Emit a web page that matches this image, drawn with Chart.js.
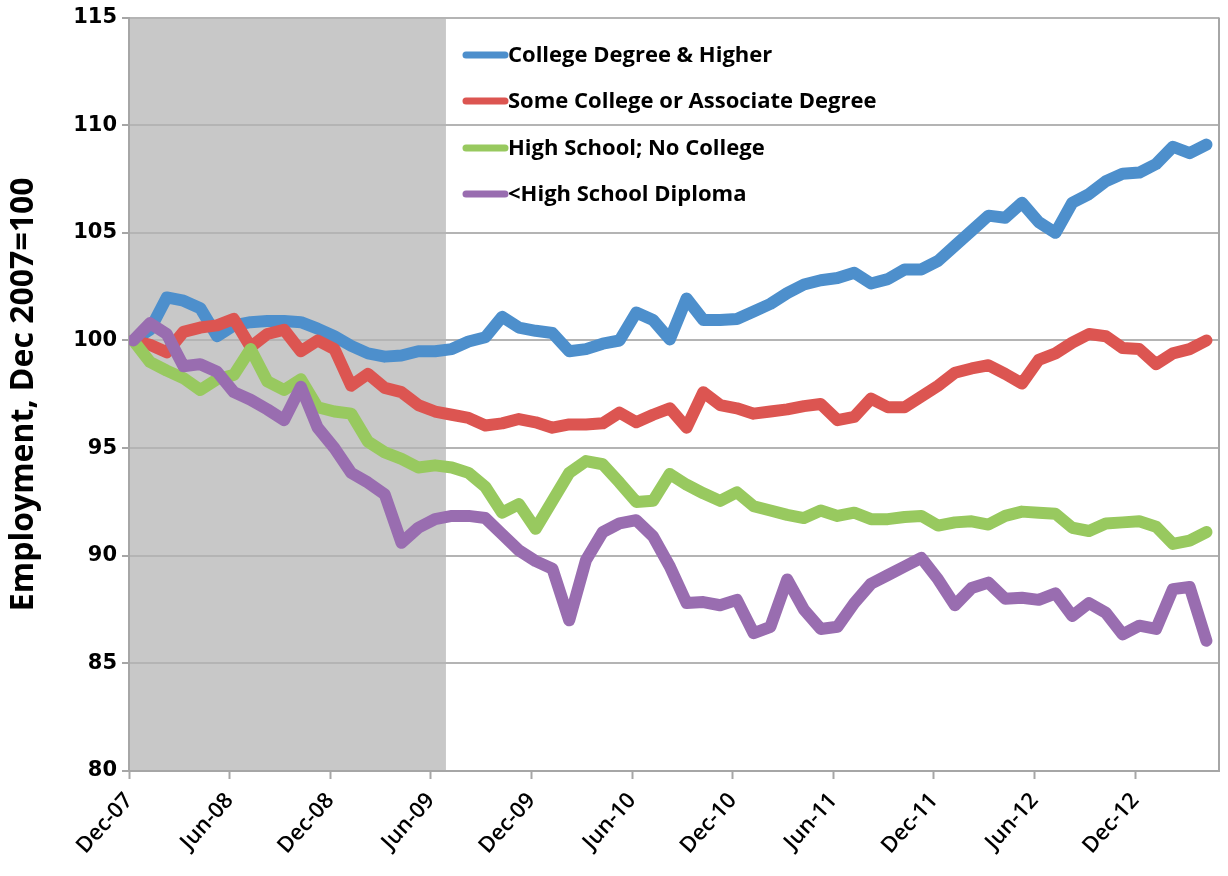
<!DOCTYPE html>
<html>
<head>
<meta charset="utf-8">
<script src="https://cdn.jsdelivr.net/npm/chart.js@4.4.1/dist/chart.umd.min.js"></script>
<style>
  html, body { margin: 0; padding: 0; background: #fff; }
</style>
</head>
<body>
<canvas id="chart" width="1228" height="876"></canvas>
<script>
// Employment by education, index Dec 2007 = 100, monthly Dec-07 .. Apr-13
const seriesNames = [
  'College Degree & Higher',
  'Some College or Associate Degree',
  'High School; No College',
  '<High School Diploma'
];

const collegeDegree = [
  100, 100.5, 102.0, 101.85, 101.5, 100.2, 100.7, 100.85, 100.9, 100.9,
  100.85, 100.55, 100.2, 99.75, 99.4, 99.25, 99.3, 99.5, 99.5, 99.6,
  99.95, 100.15, 101.1, 100.6, 100.45, 100.35, 99.5, 99.6, 99.85, 100.0,
  101.3, 100.95, 100.05, 101.95, 100.95, 100.95, 101.0, 101.35, 101.7, 102.2,
  102.6, 102.8, 102.9, 103.15, 102.65, 102.85, 103.3, 103.3, 103.7, 104.4,
  105.1, 105.8, 105.7, 106.4, 105.5, 105.0, 106.4, 106.8, 107.4, 107.75,
  107.8, 108.2, 109.0, 108.7, 109.1
];

const someCollege = [
  100, 99.8, 99.45, 100.4, 100.6, 100.7, 101.0, 99.7, 100.3, 100.5,
  99.5, 100.0, 99.6, 97.9, 98.45, 97.8, 97.6, 97.0, 96.7, 96.55,
  96.4, 96.05, 96.15, 96.35, 96.2, 95.95, 96.1, 96.1, 96.15, 96.65,
  96.2, 96.55, 96.85, 95.95, 97.6, 97.0, 96.85, 96.6, 96.7, 96.8,
  96.95, 97.05, 96.3, 96.45, 97.3, 96.9, 96.9, 97.4, 97.9, 98.5,
  98.7, 98.85, 98.45, 98.0, 99.1, 99.4, 99.9, 100.3, 100.2, 99.65,
  99.6, 98.9, 99.4, 99.6, 100.0
];

const highSchool = [
  100, 99.0, 98.6, 98.25, 97.7, 98.2, 98.4, 99.6, 98.1, 97.7,
  98.2, 96.9, 96.7, 96.6, 95.3, 94.8, 94.5, 94.1, 94.2, 94.1,
  93.85, 93.2, 92.0, 92.4, 91.25, 92.55, 93.85, 94.4, 94.25, 93.4,
  92.5, 92.55, 93.8, 93.3, 92.9, 92.55, 92.95, 92.3, 92.1, 91.9,
  91.75, 92.1, 91.85, 92.0, 91.7, 91.7, 91.8, 91.85, 91.4, 91.55,
  91.6, 91.45, 91.85, 92.05, 92.0, 91.95, 91.3, 91.15, 91.5, 91.55,
  91.6, 91.35, 90.55, 90.7, 91.1
];

const lessThanHS = [
  100, 100.8, 100.3, 98.8, 98.9, 98.55, 97.6, 97.25, 96.8, 96.3,
  97.85, 95.95, 95.0, 93.85, 93.4, 92.85, 90.6, 91.3, 91.7, 91.85,
  91.85, 91.75, 91.0, 90.25, 89.75, 89.4, 87.0, 89.8, 91.1, 91.5,
  91.65, 90.9, 89.5, 87.8, 87.85, 87.7, 87.95, 86.4, 86.7, 88.9,
  87.5, 86.6, 86.7, 87.8, 88.7, 89.1, 89.5, 89.9, 88.9, 87.7,
  88.5, 88.75, 88.0, 88.05, 87.95, 88.25, 87.2, 87.8, 87.35, 86.35,
  86.75, 86.6, 88.45, 88.55, 86.05
];

// months counted from Dec-07
const tickMonths = [0, 6, 12, 18, 24, 30, 36, 42, 48, 54, 60];
const tickLabels = ['Dec-07', 'Jun-08', 'Dec-08', 'Jun-09', 'Dec-09', 'Jun-10',
                    'Dec-10', 'Jun-11', 'Dec-11', 'Jun-12', 'Dec-12'];
const recession = [0, 18.9];
const pointOffset = 0.25;   // data sit a little after the month tick on the date axis

const colors = ['#4d8fcc', '#dc5551', '#98c95f', '#996db0'];
const allSeries = [collegeDegree, someCollege, highSchool, lessThanHS];

function toPoints(values) {
  return values.map((v, i) => ({ x: i + pointOffset, y: v }));
}

const datasets = allSeries.map((values, k) => ({
  label: seriesNames[k],
  data: toPoints(values),
  borderColor: colors[k],
  backgroundColor: colors[k],
  borderWidth: 12,
  borderJoinStyle: 'round',
  borderCapStyle: 'round',
  pointRadius: 0,
  tension: 0,
  order: allSeries.length - k   // later series drawn on top, as in the original
}));

const gridGray = '#b4b4b4';
const axisGray = '#a6a6a6';

// recession shading, right frame line and the in-plot legend
const decorations = {
  id: 'decorations',
  beforeDraw(chart) {
    const { ctx, chartArea, scales } = chart;
    const x0 = scales.x.getPixelForValue(recession[0]);
    const x1 = scales.x.getPixelForValue(recession[1]);
    ctx.save();
    ctx.fillStyle = '#c8c8c8';
    ctx.fillRect(x0, chartArea.top, x1 - x0, chartArea.bottom - chartArea.top);
    ctx.restore();
  },
  beforeDatasetsDraw(chart) {
    const { ctx, chartArea } = chart;
    ctx.save();
    ctx.strokeStyle = axisGray;
    ctx.lineWidth = 2;
    ctx.beginPath();
    ctx.moveTo(chartArea.right, chartArea.top);
    ctx.lineTo(chartArea.right, chartArea.bottom);
    ctx.stroke();
    ctx.restore();
  },
  afterDraw(chart) {
    const { ctx } = chart;
    const rowY = [55, 101, 148, 194];
    ctx.save();
    ctx.font = 'bold 22px "Open Sans"';
    ctx.textBaseline = 'middle';
    ctx.lineCap = 'round';
    chart.data.datasets.forEach((ds, k) => {
      ctx.strokeStyle = ds.borderColor;
      ctx.lineWidth = 7;
      ctx.beginPath();
      ctx.moveTo(466, rowY[k]);
      ctx.lineTo(505, rowY[k]);
      ctx.stroke();
      ctx.fillStyle = '#000';
      ctx.fillText(ds.label, 508, rowY[k] + 1);
    });
    ctx.restore();
  }
};

new Chart(document.getElementById('chart'), {
  type: 'line',
  data: { datasets },
  options: {
    responsive: false,
    animation: false,
    devicePixelRatio: 1,
    layout: { padding: { top: 15, right: 9, left: 0, bottom: 0 } },
    plugins: {
      legend: { display: false },
      tooltip: { enabled: false }
    },
    scales: {
      x: {
        type: 'linear',
        min: 0,
        max: 65,
        afterBuildTicks(scale) {
          scale.ticks = tickMonths.map(v => ({ value: v }));
        },
        afterFit(scale) { scale.height = 105; },
        grid: {
          drawOnChartArea: false,
          drawTicks: true,
          tickLength: 8,
          tickColor: axisGray,
          tickWidth: 2
        },
        border: { display: true, color: axisGray, width: 2 },
        ticks: {
          autoSkip: false,
          maxRotation: 48,
          minRotation: 48,
          padding: 9,
          color: '#000',
          font: { family: 'Open Sans', weight: '600', size: 22 },
          callback: (value) => {
            const j = tickMonths.indexOf(value);
            return j >= 0 ? tickLabels[j] : '';
          }
        }
      },
      y: {
        min: 80,
        max: 115,
        afterFit(scale) { scale.width = 129; },
        grid: {
          color: gridGray,
          lineWidth: 2,
          drawTicks: true,
          tickLength: 7,
          tickColor: axisGray
        },
        border: { display: true, color: axisGray, width: 2 },
        ticks: {
          stepSize: 5,
          padding: 5,
          color: '#000',
          font: { family: 'DejaVu Sans', weight: 'bold', size: 21 }
        },
        title: {
          display: true,
          text: 'Employment, Dec 2007=100',
          color: '#000',
          font: { family: 'Open Sans', weight: 'bold', size: 32 },
          padding: { top: 5, bottom: 0 }
        }
      }
    }
  },
  plugins: [decorations]
});
</script>
</body>
</html>
